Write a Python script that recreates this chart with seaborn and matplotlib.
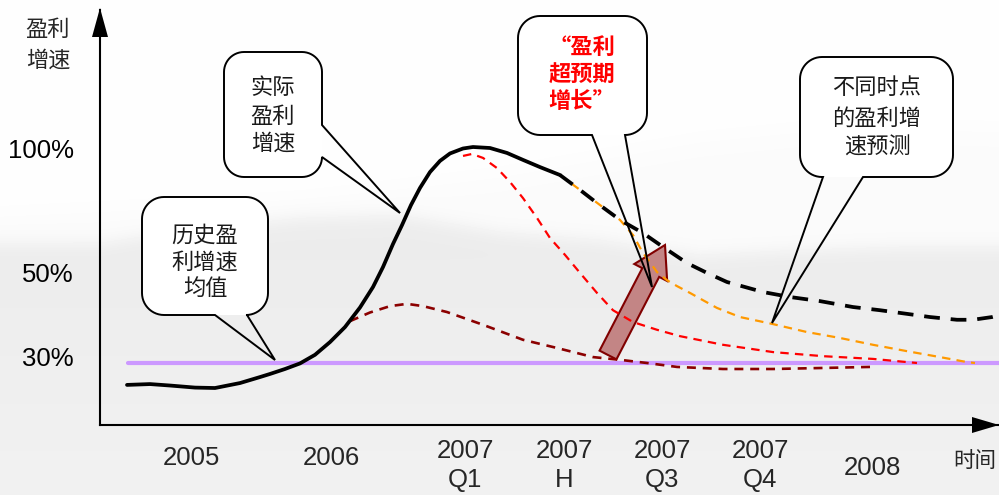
import numpy as np
import matplotlib
matplotlib.use("Agg")
import matplotlib.pyplot as plt
import matplotlib.transforms as mtransforms
from matplotlib.patches import Polygon, FancyArrow
import seaborn as sns

# ---------------- data ----------------
# time axis: label positions and texts
tick_pos = [191, 331, 465, 564, 662, 760, 872]
tick_year = ["2005", "2006", "2007", "2007", "2007", "2007", "2008"]
tick_sub = ["", "", "Q1", "H", "Q3", "Q4", ""]

# profit growth (%), y ticks
y_ticks = [30, 50, 100]
y_tick_labels = ["30%", "50%", "100%"]

# actual profit growth (solid black)
actual_x = [127, 150, 170, 195, 215, 240, 260, 270, 285, 300, 315, 330, 345,
            360, 373, 383, 393, 402, 411, 420, 430, 440, 450, 463, 473, 490,
            507, 523, 540, 560]
actual_y = [19.4, 19.8, 19.1, 18.1, 17.9, 20.3, 23.2, 24.7, 27.1, 29.8, 31.8,
            34.6, 37.9, 42.2, 46.7, 52.0, 61.3, 68.9, 77.0, 83.9, 90.3, 94.8,
            97.8, 99.8, 100.4, 100.0, 98.0, 95.2, 92.3, 89.1]

# forecast made latest (black dashed)
fc_black_x = [560, 580, 597, 620, 643, 663, 687, 707, 727, 763, 790, 820,
              853, 880, 907, 930, 957, 973, 992, 999]
fc_black_y = [89.1, 83.1, 77.8, 71.0, 65.7, 60.1, 53.6, 49.8, 47.8, 45.6,
              44.5, 43.6, 42.3, 41.6, 40.8, 40.1, 39.5, 39.5, 40.1, 40.5]

# forecast (orange dashed)
fc_orange_x = [560, 580, 600, 620, 633, 643, 657, 667, 677, 690, 703, 717,
               740, 772, 807, 840, 873, 907, 940, 967, 975]
fc_orange_y = [89.1, 83.1, 77.0, 71.0, 64.9, 57.7, 50.0, 48.2, 46.9, 45.4,
               43.8, 42.1, 40.1, 38.6, 36.8, 35.5, 34.0, 32.6, 31.3, 30.2, 30.0]

# forecast (red dashed)
fc_red_x = [463, 472, 483, 497, 510, 523, 537, 550, 565, 580, 597, 613, 633,
            657, 680, 723, 773, 823, 873, 907, 917]
fc_red_y = [96.8, 97.6, 96.0, 91.9, 86.3, 79.8, 71.8, 63.7, 56.9, 49.8, 45.4,
            41.6, 39.0, 37.3, 35.9, 34.0, 32.4, 31.5, 30.9, 30.2, 30.0]

# earliest forecast (dark red dashed)
fc_maroon_x = [350, 370, 390, 407, 423, 447, 483, 523, 557, 593, 620,
               647, 677, 723, 773, 823, 870]
fc_maroon_y = [39.2, 41.1, 42.5, 43.0, 42.5, 41.2, 38.4, 35.1, 33.3,
               31.3, 30.7, 30.0, 28.1, 27.1, 27.1, 27.6, 28.1]

# historical average growth
hist_x = [128, 999]
hist_y = [30, 30]

# ---------------- figure ----------------
sns.set_style("white")
plt.rcParams["font.family"] = ["Liberation Sans", "Noto Sans CJK SC", "DejaVu Sans"]
CJK = ["Noto Sans CJK SC", "DejaVu Sans"]

W, H = 999, 495
fig = plt.figure(figsize=(W / 100, H / 100), dpi=100)
fig.patch.set_facecolor("white")
# pixel transform (origin top-left) for annotations
pix = mtransforms.Affine2D().scale(1 / W, -1 / H).translate(0, 1) + fig.transFigure

# soft ink-wash background
bg_ax = fig.add_axes([0, 0, 1, 1], zorder=0)
yy, xx = np.mgrid[0:H, 0:W]
ridge = np.interp(xx[0], [0, 100, 200, 300, 400, 500, 600, 700, 800, 900, 999],
                  [243, 243, 228, 218, 215, 232, 240, 255, 250, 247, 247])
ridge2 = np.interp(xx[0], [0, 300, 500, 700, 850, 999],
                   [215, 200, 175, 140, 125, 130])
s1 = 1 / (1 + np.exp(-(yy - ridge[None, :]) / 5.0))
s2 = 1 / (1 + np.exp(-(yy - ridge2[None, :]) / 8.0))
upper = 0.995 - 0.012 * s2
lower = 0.925 + 0.02 * np.clip((yy - 250) / 245.0, 0, 1)
bg = upper * (1 - s1) + lower * s1
bg_ax.imshow(bg, cmap="gray", vmin=0, vmax=1, aspect="auto",
             interpolation="bilinear", extent=(0, W, H, 0))
bg_ax.set_axis_off()

# main axes: piecewise scale for growth %
P_KN = np.array([-50.0, 0.0, 30.0, 50.0, 100.0, 200.0])
H_KN = np.array([-103.3, 0.0, 62.0, 153.0, 277.0, 525.0])


def fwd(v):
    return np.interp(v, P_KN, H_KN)


def inv(h):
    return np.interp(h, H_KN, P_KN)


ax = fig.add_axes([100 / W, (H - 425) / H, (W - 100) / W, (425 - 10) / H], zorder=1)
ax.patch.set_alpha(0)
ax.set_yscale("function", functions=(fwd, inv))
ax.set_xlim(100, 999)
ax.set_ylim(0, float(inv(415)))

# historical average
sns.lineplot(x=hist_x, y=hist_y, ax=ax, color="#CC99FF", linewidth=3.0,
             legend=False, zorder=3, sort=False)
# forecasts
sns.lineplot(x=fc_maroon_x, y=fc_maroon_y, ax=ax, color="#8B0000", linewidth=1.9,
             linestyle=(0, (3.4, 2.6)), legend=False, zorder=3, sort=False)
sns.lineplot(x=fc_red_x, y=fc_red_y, ax=ax, color="#FF0000", linewidth=1.6,
             linestyle=(0, (3.8, 2.8)), legend=False, zorder=3, sort=False)
sns.lineplot(x=fc_orange_x, y=fc_orange_y, ax=ax, color="#FF9900", linewidth=1.6,
             linestyle=(0, (3.8, 2.8)), legend=False, zorder=3, sort=False)
sns.lineplot(x=fc_black_x, y=fc_black_y, ax=ax, color="black", linewidth=2.7,
             linestyle=(0, (4.2, 2.9)), legend=False, zorder=3.2, sort=False)
# actual growth
sns.lineplot(x=actual_x, y=actual_y, ax=ax, color="black", linewidth=2.7,
             legend=False, zorder=3.5, sort=False, solid_capstyle="round",
             solid_joinstyle="round")

# axes styling
for side in ["top", "right"]:
    ax.spines[side].set_visible(False)
for side in ["left", "bottom"]:
    ax.spines[side].set_color("black")
    ax.spines[side].set_linewidth(1.5)
ax.set_xticks([])
ax.set_yticks(y_ticks, y_tick_labels)
ax.minorticks_off()
ax.tick_params(axis="y", length=0, pad=19, labelsize=18.5, labelcolor="black")
ax.set_xlabel("")
ax.set_ylabel("")
# the 30% label sits slightly above its gridline
fig.canvas.draw()
for lbl in ax.get_yticklabels():
    if lbl.get_text() == "30%":
        lbl.set_transform(lbl.get_transform() +
                          mtransforms.ScaledTranslation(0, 0.06, fig.dpi_scale_trans))

# axis arrowheads
ax.add_patch(Polygon([(100, 8), (92, 37), (108, 37)], closed=True, transform=pix,
                     facecolor="black", edgecolor="none", clip_on=False, zorder=6))
ax.add_patch(Polygon([(999, 425), (972, 417), (972, 433)], closed=True, transform=pix,
                     facecolor="black", edgecolor="none", clip_on=False, zorder=6))

# time labels
xlab_tf = mtransforms.blended_transform_factory(ax.transData, pix)
for xp, yr, sub in zip(tick_pos, tick_year, tick_sub):
    if sub:
        ax.text(xp, 451, yr, transform=xlab_tf, ha="center", va="center",
                fontsize=18.5, clip_on=False)
        ax.text(xp, 480, sub, transform=xlab_tf, ha="center", va="center",
                fontsize=18.5, clip_on=False)
    else:
        ty = 468 if yr == "2008" else 458
        ax.text(xp, ty, yr, transform=xlab_tf, ha="center", va="center",
                fontsize=18.5, clip_on=False)

# axis titles
ax.text(48, 29, "盈利", transform=pix, ha="center", va="center", fontsize=16,
        family=CJK, clip_on=False)
ax.text(48, 60, "增速", transform=pix, ha="center", va="center", fontsize=16,
        family=CJK, clip_on=False)
ax.text(975, 461, "时间", transform=pix, ha="center", va="center", fontsize=15.5,
        family=CJK, clip_on=False)

# upward arrow: earnings beat expectations
ax.add_patch(FancyArrow(608, 355, 57, -110, width=19, head_width=37, head_length=31,
                        length_includes_head=True, transform=pix,
                        facecolor="#C38585", edgecolor="#800000", linewidth=1.5,
                        clip_on=False, zorder=2))


# speech-bubble callouts
def bubble(x0, y0, x1, y1, r, side=None, base=None, tip=None, n=14):
    pts = []

    def arc(cx, cy, a0, a1):
        t = np.radians(np.linspace(a0, a1, n))
        return list(zip(cx + r * np.cos(t), cy + r * np.sin(t)))

    pts += arc(x0 + r, y0 + r, 180, 270)
    pts += arc(x1 - r, y0 + r, 270, 360)
    if side == "right":
        pts += [(x1, base[0]), tip, (x1, base[1])]
    pts += arc(x1 - r, y1 - r, 0, 90)
    if side == "bottom":
        pts += [(base[0], y1), tip, (base[1], y1)]
    pts += arc(x0 + r, y1 - r, 90, 180)
    return pts


callouts = [
    dict(box=(142, 197, 268, 315), r=22, side="bottom", base=(247, 215), tip=(275, 360),
         lines=["历史盈", "利增速", "均值"], ys=[235, 262, 288], cx=205,
         color="#1a1a1a", weight="normal"),
    dict(box=(224, 52, 322, 177), r=20, side="right", base=(125, 157), tip=(400, 213),
         lines=["实际", "盈利", "增速"], ys=[87, 116, 143], cx=273,
         color="#1a1a1a", weight="normal"),
    dict(box=(518, 16, 647, 135), r=22, side="bottom", base=(625, 592), tip=(652, 287),
         lines=["“盈利", "超预期", "增长”"], ys=[47, 75, 102], cx=582,
         color="#FF0000", weight="bold"),
    dict(box=(800, 57, 953, 177), r=22, side="bottom", base=(863, 823), tip=(772, 323),
         lines=["不同时点", "的盈利增", "速预测"], ys=[88, 118, 147], cx=877,
         color="#1a1a1a", weight="normal"),
]

for c in callouts:
    x0, y0, x1, y1 = c["box"]
    fill = bubble(x0, y0, x1, y1, c["r"])
    ax.add_patch(Polygon(fill, closed=True, transform=pix, facecolor="white",
                         edgecolor="none", clip_on=False, zorder=1.5))
    outline = bubble(x0, y0, x1, y1, c["r"], c["side"], c["base"], c["tip"])
    ax.add_patch(Polygon(outline, closed=True, transform=pix, fill=False,
                         edgecolor="black", linewidth=1.4, joinstyle="miter",
                         clip_on=False, zorder=5))
    for line, ly in zip(c["lines"], c["ys"]):
        ax.text(c["cx"], ly, line, transform=pix, ha="center", va="center",
                fontsize=16, family=CJK, color=c["color"], fontweight=c["weight"],
                clip_on=False, zorder=6)

fig.savefig("out.png", dpi=100)
